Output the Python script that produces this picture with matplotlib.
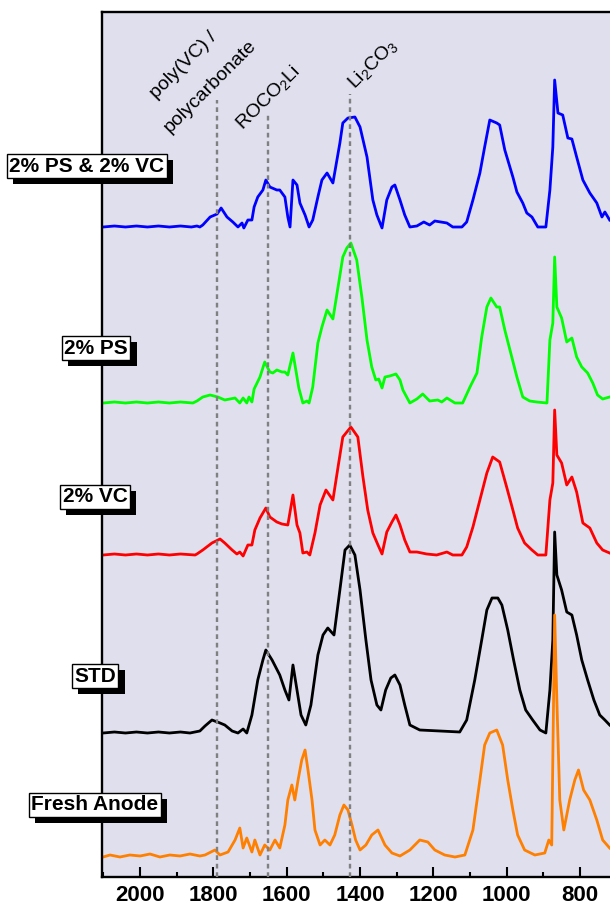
import matplotlib
matplotlib.use("Agg")
import matplotlib.pyplot as plt
import matplotlib.patheffects as pe
from matplotlib.ticker import MultipleLocator
import numpy as np

plt.rcParams['font.family'] = ['Liberation Sans', 'DejaVu Sans']
plt.rcParams['mathtext.fontset'] = 'custom'
plt.rcParams['mathtext.rm'] = 'Liberation Sans'
plt.rcParams['mathtext.default'] = 'regular'

# ---- spectra (wavenumber in cm-1, intensity above each trace's own baseline, a.u.) ----
wn_pvc = [2101, 2070, 2040, 2010, 1980, 1950, 1920, 1890, 1860, 1845, 1837, 1829, 1809, 1790,
          1779, 1763, 1747, 1733, 1722, 1717, 1706, 1695, 1689, 1679, 1665, 1657, 1646, 1627,
          1619, 1605, 1597, 1591, 1583, 1572, 1564, 1550, 1539, 1529, 1515, 1504, 1490, 1474,
          1455, 1447, 1433, 1414, 1400, 1381, 1365, 1354, 1340, 1327, 1313, 1305, 1291, 1278,
          1264, 1245, 1226, 1210, 1196, 1163, 1147, 1122, 1109, 1092, 1073, 1060, 1046, 1027,
          1019, 1005, 983, 972, 956, 945, 931, 915, 893, 882, 874, 869, 860, 847, 833, 822,
          809, 792, 773, 754, 740, 732, 719]
int_pvc = [0, 1, 0, 1, 0, 1, 0, 1, 0, 1, 0, 2, 10, 13,
           19, 10, 5, 0, 4, -1, 7, 7, 20, 30, 37, 47, 40, 37,
           37, 30, 10, 0, 47, 42, 24, 12, 0, 7, 30, 47, 54, 44,
           84, 104, 109, 110, 100, 70, 27, 12, -1, 27, 40, 42, 27, 12,
           0, 1, 5, 2, 6, 4, 0, 0, 5, 27, 54, 80, 107, 104,
           102, 77, 50, 35, 24, 14, 10, 0, 0, 37, 80, 147, 114, 112, 89, 88,
           70, 47, 34, 24, 10, 15, 7]

wn_ps = [2101, 2070, 2040, 2010, 1980, 1950, 1920, 1890, 1856, 1845, 1829, 1809, 1788, 1769,
         1741, 1728, 1719, 1709, 1703, 1695, 1689, 1673, 1660, 1646, 1638, 1627, 1613, 1605,
         1597, 1583, 1572, 1567, 1556, 1545, 1539, 1529, 1515, 1504, 1490, 1474, 1460, 1447,
         1436, 1425, 1409, 1395, 1381, 1368, 1357, 1349, 1340, 1332, 1319, 1302, 1291, 1283,
         1264, 1245, 1229, 1210, 1188, 1177, 1163, 1141, 1120, 1100, 1081, 1068, 1054, 1043,
         1027, 1019, 1005, 986, 972, 956, 937, 918, 890, 882, 874, 869, 863, 850, 836, 822,
         809, 795, 779, 765, 752, 738, 719]
int_ps = [0, 1, 0, 1, 0, 1, 0, 1, 0, 2, 6, 8, 6, 3,
          5, 0, 5, 0, 6, 1, 14, 26, 41, 31, 30, 33, 31, 31,
          28, 50, 26, 15, 0, 2, 0, 16, 60, 76, 93, 84, 116, 146,
          155, 160, 143, 106, 63, 36, 23, 24, 15, 26, 27, 29, 23, 13,
          0, 4, 9, 2, 3, 1, 5, 0, 0, 16, 30, 66, 96, 105,
          96, 96, 73, 46, 26, 6, 2, 1, 0, 63, 80, 146, 96, 85, 61, 65,
          46, 36, 30, 20, 8, 4, 6]

wn_vc = [2101, 2070, 2040, 2010, 1980, 1950, 1920, 1890, 1850, 1845, 1829, 1804, 1782, 1769,
         1749, 1736, 1728, 1719, 1706, 1695, 1687, 1673, 1657, 1646, 1627, 1613, 1597, 1583,
         1572, 1564, 1556, 1545, 1537, 1523, 1509, 1493, 1474, 1460, 1447, 1425, 1406, 1392,
         1379, 1365, 1351, 1340, 1327, 1313, 1302, 1291, 1278, 1264, 1245, 1218, 1191, 1163,
         1147, 1122, 1109, 1092, 1073, 1054, 1038, 1019, 1000, 983, 970, 951, 931, 915, 893,
         882, 874, 869, 863, 850, 836, 822, 809, 792, 773, 754, 738, 719]
int_vc = [0, 1, 0, 1, 0, 1, 0, 1, 0, 1, 5, 12, 16, 12,
          5, 1, 3, -1, 10, 10, 25, 37, 47, 38, 33, 31, 30, 60,
          30, 22, 2, 3, 0, 22, 50, 65, 55, 88, 118, 128, 118, 78,
          45, 22, 10, 1, 23, 33, 40, 30, 15, 3, 3, 1, 0, 3,
          0, 0, 8, 28, 55, 82, 98, 93, 68, 45, 27, 12, 5, 0, 0,
          55, 72, 145, 100, 92, 70, 78, 63, 32, 27, 12, 5, 2]

wn_std = [2101, 2070, 2040, 2010, 1980, 1950, 1920, 1890, 1864, 1837, 1823, 1804, 1782, 1769,
          1749, 1733, 1719, 1709, 1695, 1679, 1665, 1657, 1640, 1619, 1605, 1594, 1583, 1572,
          1561, 1548, 1534, 1515, 1501, 1488, 1471, 1455, 1441, 1428, 1414, 1400, 1384, 1370,
          1354, 1343, 1330, 1316, 1305, 1291, 1278, 1264, 1237, 1182, 1128, 1109, 1087, 1068,
          1054, 1040, 1024, 1013, 997, 981, 964, 948, 929, 909, 893, 882, 874, 869, 863, 850,
          836, 822, 809, 795, 779, 762, 746, 732, 719]
int_std = [0, 1, 0, 1, 0, 1, 0, 1, 0, 2, 7, 13, 10, 8,
           2, 0, 4, 0, 18, 53, 73, 83, 73, 58, 43, 33, 68, 43,
           18, 8, 28, 78, 98, 105, 98, 143, 183, 188, 178, 143, 93, 53,
           28, 23, 43, 55, 58, 48, 28, 8, 3, 2, 1, 13, 53, 93,
           123, 135, 135, 128, 103, 73, 43, 23, 13, 3, 0, 43, 93, 201, 158, 143,
           121, 118, 98, 73, 53, 33, 18, 13, 8]

wn_fresh = [2101, 2082, 2055, 2028, 2000, 1973, 1946, 1919, 1891, 1864, 1837, 1823, 1796, 1782,
            1760, 1741, 1728, 1719, 1709, 1695, 1687, 1673, 1660, 1646, 1632, 1619, 1605, 1597,
            1586, 1578, 1569, 1559, 1550, 1542, 1531, 1523, 1509, 1496, 1482, 1469, 1455, 1444,
            1433, 1422, 1412, 1400, 1384, 1368, 1351, 1332, 1313, 1291, 1264, 1237, 1215, 1196,
            1169, 1141, 1114, 1092, 1073, 1060, 1046, 1027, 1011, 997, 983, 970, 951, 923, 896,
            885, 877, 869, 863, 855, 844, 828, 814, 804, 790, 773, 754, 738, 719]
int_fresh = [0, 2, 0, 2, 1, 3, 0, 2, 1, 3, 1, 2, 7, 2,
             5, 17, 29, 9, 19, 5, 17, 2, 12, 7, 17, 9, 32, 57,
             72, 57, 77, 97, 107, 87, 57, 27, 12, 17, 12, 22, 42, 52,
             47, 32, 17, 7, 12, 22, 27, 12, 4, 1, 7, 17, 15, 7,
             2, 0, 2, 27, 77, 112, 124, 127, 112, 77, 47, 22, 7, 2, 4,
             17, 12, 242, 157, 57, 27, 57, 77, 87, 67, 57, 37, 17, 9]

names = ["2% PS & 2% VC", "2% PS", "2% VC", "STD", "Fresh Anode"]
colors = ["#0000ff", "#00ff00", "#ff0000", "#000000", "#ff8000"]
offsets = [650, 474, 322, 144, 20]
spectra = [(wn_pvc, int_pvc), (wn_ps, int_ps), (wn_vc, int_vc),
           (wn_std, int_std), (wn_fresh, int_fresh)]

# band assignments
band_pos = [1790, 1651, 1428]
band_top = [777, 764, 783]

W, H = 610, 909
fig = plt.figure(figsize=(W / 100, H / 100), dpi=100)
ax = fig.add_axes([102 / W, 1 - 877 / H, 1 - 102 / W, 865 / H])
ax.set_facecolor("#dfdfee")

for (wn, inten), off, c in zip(spectra, offsets, colors):
    ax.plot(wn, np.array(inten) + off, color=c, lw=2.0, zorder=2)

for xb, yt in zip(band_pos, band_top):
    ax.plot([xb, xb], [0, yt], color="#808080", lw=1.7,
            linestyle=(0, (2, 1.6)), zorder=3)

ax.set_xlim(2104, 718)
ax.set_ylim(0, 865)
ax.set_yticks([])
ax.xaxis.set_major_locator(MultipleLocator(200))
ax.xaxis.set_minor_locator(MultipleLocator(100))
ax.tick_params(axis="x", which="major", direction="in", length=7, width=1.5,
               labelsize=16, pad=6)
ax.tick_params(axis="x", which="minor", direction="in", length=3.5, width=1.5)
for lab in ax.get_xticklabels():
    lab.set_fontweight("bold")
for side in ["left", "top", "bottom"]:
    ax.spines[side].set_linewidth(1.7)
ax.spines["right"].set_visible(False)

# band labels
txt_kw = dict(rotation=45, rotation_mode="anchor", ha="left", va="baseline",
              fontsize=14, color="black", zorder=4)
ax.text(1956, 778, "poly(VC) /", **txt_kw)
ax.text(1919, 744, "polycarbonate", **txt_kw)
ax.text(1722, 747, "ROCO$_2$Li", **txt_kw)
ax.text(1416, 788, "Li$_2$CO$_3$", **txt_kw)

# boxed sample names with drop shadow
label_xy = [(87, 166), (96, 348), (95, 497), (95, 676), (95, 805)]
for name, (px, py) in zip(names, label_xy):
    t = fig.text(px / W, 1 - py / H, name, ha="center", va="center",
                 fontsize=15, fontweight="bold",
                 bbox=dict(boxstyle="square,pad=0.12", fc="white", ec="black", lw=1.0))
    t.get_bbox_patch().set_path_effects([
        pe.SimplePatchShadow(offset=(4.5, -4.5), shadow_rgbFace="black", alpha=1.0),
        pe.Normal()])

fig.savefig("out.png", dpi=100)
